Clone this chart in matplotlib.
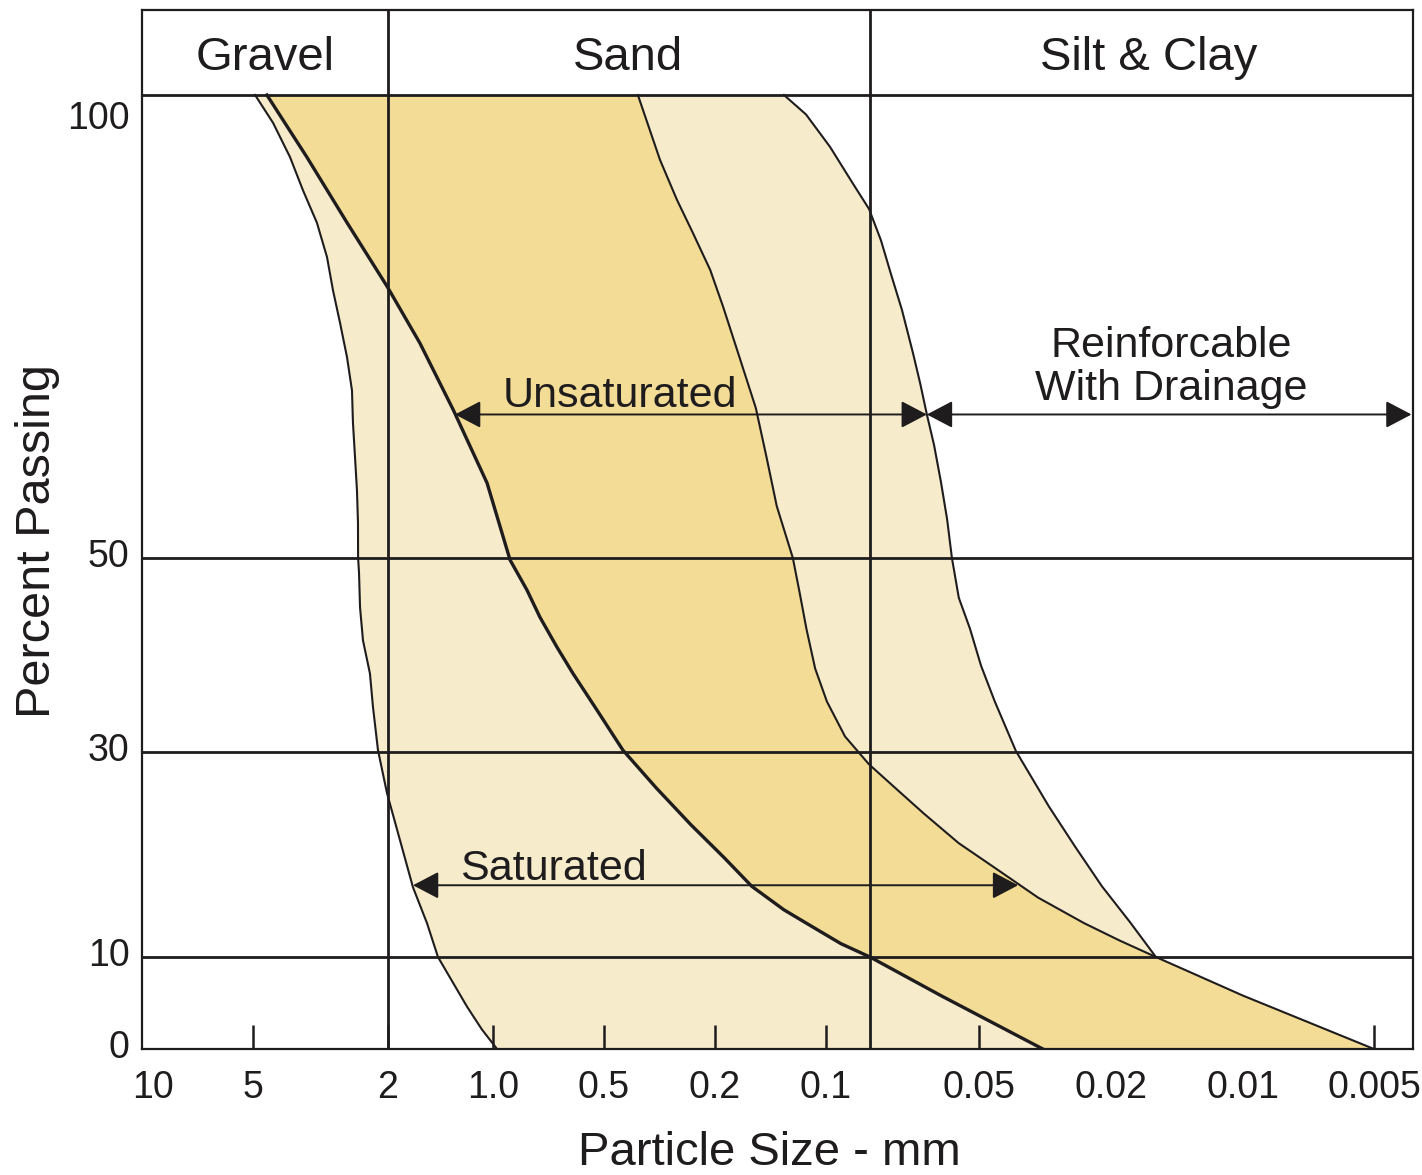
import numpy as np
import matplotlib
matplotlib.use("Agg")
import matplotlib.pyplot as plt
from matplotlib.ticker import FixedLocator, FixedFormatter, NullLocator
from matplotlib.transforms import ScaledTranslation

plt.rcParams['font.family'] = ['Liberation Sans', 'DejaVu Sans']

# ---------------- data ----------------
size_ticks = [10, 5, 2, 1.0, 0.5, 0.2, 0.1, 0.05, 0.02, 0.01, 0.005]
size_tick_labels = ['10', '5', '2', '1.0', '0.5', '0.2', '0.1', '0.05', '0.02', '0.01', '0.005']
pct_ticks = [0, 10, 30, 50, 100]
pct_tick_labels = ['0', '10', '30', '50', '100']
grid_pcts = [10, 30, 50, 100]
class_names = ['Gravel', 'Sand', 'Silt & Clay']
class_bounds = [2.0, 0.075]

# outer coarse limit (thin)
outer_coarse_d = [4.93, 4.365, 3.89, 3.561, 3.24, 3.026, 2.905, 2.770, 2.642, 2.554,
                  2.537, 2.502, 2.469, 2.452, 2.450, 2.435, 2.418, 2.370, 2.261, 2.214,
                  2.141, 2.014, 1.848, 1.696, 1.546, 1.438, 1.302, 1.187, 1.075, 0.975]
outer_coarse_p = [100, 97.0, 93.3, 89.7, 86.2, 82.5, 78.9, 75.4, 71.7, 68.1,
                  64.6, 60.9, 57.3, 53.8, 50.0, 48.5, 44.9, 41.5, 38.1, 34.6,
                  30.2, 26.0, 21.4, 16.8, 13.3, 10.0, 7.2, 4.6, 2.1, 0]
# inner coarse limit (thick)
inner_coarse_d = [4.55, 3.47, 2.64, 2.01, 1.62, 1.30, 1.04, 0.899, 0.809, 0.746,
                  0.6705, 0.607, 0.522, 0.428, 0.325, 0.244, 0.189, 0.159, 0.130,
                  0.106, 0.0907, 0.075, 0.0576, 0.0321]
inner_coarse_p = [100, 93.3, 86.2, 79.3, 73.2, 66.0, 58.1, 49.8, 46.7, 43.9,
                  40.8, 38.1, 34.3, 30.2, 26.5, 22.9, 19.7, 16.9, 14.6,
                  12.7, 11.3, 10.0, 5.8, 0]
# inner fine limit (thin)
inner_fine_d = [0.378, 0.315, 0.274, 0.240, 0.208, 0.190, 0.173, 0.155, 0.145, 0.136,
                0.123, 0.118, 0.113, 0.107, 0.0994, 0.0883, 0.0755, 0.0683, 0.0614,
                0.0539, 0.0448, 0.0332, 0.0241, 0.0191, 0.0158, 0.010, 0.005]
inner_fine_p = [100, 93.0, 88.7, 85.1, 81.1, 77.1, 72.1, 66.2, 60.9, 55.6,
                50.0, 46.5, 42.7, 38.6, 35.2, 31.6, 28.8, 26.5, 24.0,
                21.1, 18.7, 15.8, 13.3, 11.6, 10.0, 5.8, 0]
# outer fine limit (thin)
outer_fine_d = [0.130, 0.1133, 0.0974, 0.0844, 0.0755, 0.0720, 0.0694, 0.0666, 0.0639,
                0.0622, 0.0607, 0.0591, 0.0576, 0.0563, 0.0553, 0.0539, 0.0517, 0.0493,
                0.0448, 0.0387, 0.0308, 0.0257, 0.0213, 0.0181, 0.0158]
outer_fine_p = [100, 97.9, 94.4, 90.6, 87.7, 84.3, 80.7, 76.8, 72.1,
                68.8, 65.5, 62.2, 58.2, 54.2, 50.0, 45.9, 42.7, 38.9,
                35.2, 30.1, 24.7, 20.8, 16.9, 13.4, 10.0]

# range arrows: (coarse end, fine end, percent)
unsat_arrow = (1.285, 0.0607, 65.5)
reinf_arrow = (0.0607, 0.0041, 65.5)
sat_arrow = (1.696, 0.0381, 17.0)

# ---------------- scales (hand drawn chart: piecewise axis) ----------------
# increasing sizes -> (negative) pixel columns, so the transform is increasing
X_KNOT_SIZES = np.array([0.005, 0.01, 0.02, 0.05, 0.075, 0.1, 0.2, 0.5, 1, 2, 5, 10])
X_KNOT_POS = -np.array([1374, 1243, 1111, 979, 870, 826, 715, 604, 493, 388, 253, 153], float)
X_KNOT_L = np.log10(X_KNOT_SIZES)
Y_KNOT_PCT = np.array([0, 10, 30, 50, 100], float)
Y_KNOT_POS = np.array([0, 92, 297, 491, 954], float)


def interp_ext(x, xp, fp):
    x = np.asarray(x, float)
    y = np.interp(x, xp, fp)
    lo = fp[0] + (x - xp[0]) * (fp[1] - fp[0]) / (xp[1] - xp[0])
    hi = fp[-1] + (x - xp[-1]) * (fp[-1] - fp[-2]) / (xp[-1] - xp[-2])
    y = np.where(x < xp[0], lo, y)
    y = np.where(x > xp[-1], hi, y)
    return y


def fwd_x(d):
    d = np.asarray(d, float)
    with np.errstate(all='ignore'):
        l = np.log10(np.where(d > 0, d, np.nan))
    return interp_ext(l, X_KNOT_L, X_KNOT_POS)


def inv_x(q):
    return 10.0 ** interp_ext(q, X_KNOT_POS, X_KNOT_L)


def fwd_y(p):
    return interp_ext(p, Y_KNOT_PCT, Y_KNOT_POS)


def inv_y(q):
    return interp_ext(q, Y_KNOT_POS, Y_KNOT_PCT)


INK = '#1f1c1d'
LIGHT = '#F6EBCB'
DARK = '#F3DC95'

fig = plt.figure(figsize=(14.22, 11.75), dpi=100)
fig.patch.set_facecolor('white')
ax = fig.add_axes([142 / 1422, 126 / 1175, 1271 / 1422, 1039 / 1175])
ax.set_xscale('function', functions=(fwd_x, inv_x))
ax.set_yscale('function', functions=(fwd_y, inv_y))
ax.set_xlim(float(inv_x(-142.0)), float(inv_x(-1413.0)))
ax.set_ylim(0, float(inv_y(1039.0)))

# fills
light_x = outer_coarse_d + [inner_fine_d[-1], inner_fine_d[-2]] + outer_fine_d[::-1]
light_y = outer_coarse_p + [inner_fine_p[-1], inner_fine_p[-2]] + outer_fine_p[::-1]
ax.fill(light_x, light_y, color=LIGHT, lw=0, zorder=1)
dark_x = inner_coarse_d + inner_fine_d[::-1]
dark_y = inner_coarse_p + inner_fine_p[::-1]
ax.fill(dark_x, dark_y, color=DARK, lw=0, zorder=2)

# grid / class boundaries
for v in grid_pcts:
    ax.axhline(v, color=INK, lw=2.0, zorder=3)
for b in class_bounds:
    ax.axvline(b, color=INK, lw=2.0, zorder=3)

# curves
ax.plot(outer_coarse_d, outer_coarse_p, color=INK, lw=1.5, zorder=4, solid_joinstyle='round')
ax.plot(inner_coarse_d, inner_coarse_p, color=INK, lw=2.4, zorder=4, solid_joinstyle='round')
ax.plot(inner_fine_d, inner_fine_p, color=INK, lw=1.5, zorder=4, solid_joinstyle='round')
ax.plot(outer_fine_d, outer_fine_p, color=INK, lw=1.5, zorder=4, solid_joinstyle='round')

# arrows
astyle = dict(arrowstyle='<|-|>,head_length=0.8,head_width=0.42', mutation_scale=20,
              lw=1.4, color=INK, shrinkA=0, shrinkB=0)
for a in (unsat_arrow, reinf_arrow, sat_arrow):
    ax.annotate('', xy=(a[1], a[2]), xytext=(a[0], a[2]), arrowprops=astyle, zorder=5)

ann_fs = 31
ax.text(0.3761, 0.6179, 'Unsaturated', transform=ax.transAxes, ha='center', va='baseline',
        fontsize=ann_fs, color=INK, zorder=6)
ax.text(0.8096, 0.6660, 'Reinforcable', transform=ax.transAxes, ha='center', va='baseline',
        fontsize=ann_fs, color=INK, zorder=6)
ax.text(0.8096, 0.6246, 'With Drainage', transform=ax.transAxes, ha='center', va='baseline',
        fontsize=ann_fs, color=INK, zorder=6)
ax.text(0.3234, 0.1627, 'Saturated', transform=ax.transAxes, ha='center', va='baseline',
        fontsize=ann_fs, color=INK, zorder=6)

# header
for name, xf in zip(class_names, [0.0968, 0.3820, 0.7923]):
    ax.text(xf, 0.9423, name, transform=ax.transAxes, ha='center', va='baseline',
            fontsize=34, color=INK)

# spines
for s in ax.spines.values():
    s.set_color(INK)
    s.set_linewidth(1.6)
    s.set_zorder(6)

# ticks
ax.xaxis.set_major_locator(FixedLocator(size_ticks))
ax.xaxis.set_major_formatter(FixedFormatter(size_tick_labels))
ax.xaxis.set_minor_locator(NullLocator())
ax.yaxis.set_major_locator(FixedLocator(pct_ticks))
ax.yaxis.set_major_formatter(FixedFormatter(pct_tick_labels))
ax.yaxis.set_minor_locator(NullLocator())
ax.tick_params(axis='x', direction='in', length=17, width=1.8, pad=15, labelsize=27,
               color=INK, labelcolor=INK)
ax.tick_params(axis='y', length=0, pad=9, labelsize=27, labelcolor=INK)

ax.set_xlabel('Particle Size - mm', fontsize=34, color=INK)
ax.xaxis.set_label_coords(0.494, -0.112)
ax.xaxis.label.set_va('baseline')
ax.set_ylabel('Percent Passing', fontsize=35, color=INK)
ax.yaxis.set_label_coords(-0.0724, 0.489)
ax.yaxis.label.set_rotation_mode('anchor')
ax.yaxis.label.set_ha('center')
ax.yaxis.label.set_va('baseline')

fig.canvas.draw()
ax.xaxis.get_major_ticks()[0].tick1line.set_visible(False)
for lbl, val in zip(ax.get_yticklabels(), pct_ticks):
    dy = -20 if val == 100 else 5
    lbl.set_transform(lbl.get_transform() + ScaledTranslation(0, dy / 100, fig.dpi_scale_trans))

fig.savefig('out.png', dpi=100, facecolor='white')
